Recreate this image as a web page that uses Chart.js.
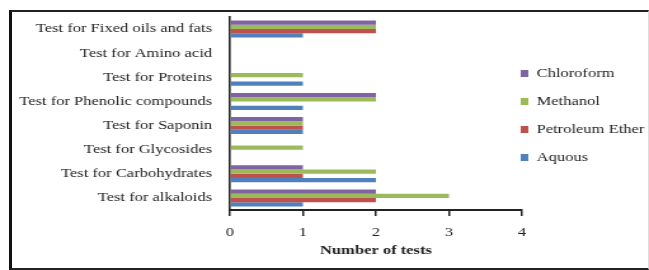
<!DOCTYPE html>
<html>
<head>
<meta charset="utf-8">
<script src="https://cdn.jsdelivr.net/npm/chart.js@4"></script>
<style>
    html, body { margin: 0; padding: 0; background: #fff; overflow: hidden; }
    #wrap { position: relative; width: 649px; height: 270px; }
    #frame { position: absolute; left: 9px; top: 10px; width: 636px; height: 256px;
        border-left: 3px solid #111; border-top: 2px solid #222; border-bottom: 2px solid #222; border-right: 1px solid #ddd; }
    /* the source picture is stretched sideways, so the chart is too */
    #stretch { position: absolute; left: 0; top: 0; width: 511px; height: 270px;
        transform: scaleX(1.27); transform-origin: 0 0; }
</style>
</head>
<body>
<div id="wrap">
    <div id="frame"></div>
    <div id="stretch"><canvas id="chart" width="511" height="270"></canvas></div>
</div>
<script>
const categories = ['Test for Fixed oils and fats', 'Test for Amino acid', 'Test for Proteins',
    'Test for Phenolic compounds', 'Test for Saponin', 'Test for Glycosides',
    'Test for Carbohydrates', 'Test for alkaloids'];
const chloroform = [2, 0, 0, 2, 1, 0, 1, 2];
const methanol = [2, 0, 1, 2, 1, 1, 2, 3];
const petroleumEther = [2, 0, 0, 0, 1, 0, 1, 2];
const aquous = [1, 0, 1, 1, 1, 0, 2, 1];
const xTicks = [0, 1, 2, 3, 4];

const serif = '"Liberation Serif", "Times New Roman", serif';

// legend sits tight to the plot and a bit above centre
const legendShift = {
    id: 'legendShift',
    afterLayout(chart) {
        const lg = chart.legend;
        if (!lg) return;
        lg.left -= 16;
        lg.width += 16;
        lg.top -= 22;
        lg.bottom -= 22;
    }
};

new Chart(document.getElementById('chart').getContext('2d'), {
    type: 'bar',
    data: {
        labels: categories,
        datasets: [
            { label: 'Chloroform', data: chloroform, backgroundColor: '#8064A2' },
            { label: 'Methanol', data: methanol, backgroundColor: '#9BBB59' },
            { label: 'Petroleum Ether', data: petroleumEther, backgroundColor: '#C0504D' },
            { label: 'Aquous', data: aquous, backgroundColor: '#4F81BD' }
        ]
    },
    plugins: [legendShift],
    options: {
        indexAxis: 'y',
        responsive: false,
        animation: false,
        categoryPercentage: 0.7,
        barPercentage: 1,
        layout: { padding: { left: 4, top: 17, right: 0, bottom: 12 } },
        plugins: {
            tooltip: { enabled: false },
            legend: {
                position: 'right',
                maxWidth: 100,
                labels: {
                    boxWidth: 6, boxHeight: 7, padding: 15,
                    color: '#222',
                    font: { family: serif, size: 13 }
                }
            }
        },
        scales: {
            x: {
                min: 0, max: 4,
                afterBuildTicks: s => { s.ticks = xTicks.map(v => ({ value: v })); },
                afterFit: s => { s.height = 48; },
                border: { color: '#222', width: 2 },
                grid: { drawOnChartArea: false, tickLength: 6, color: '#222', lineWidth: 1.5 },
                ticks: { color: '#222', padding: 9, font: { family: serif, size: 13 } },
                title: {
                    display: true, text: 'Number of tests', color: '#222', padding: 0,
                    font: { family: serif, size: 13, weight: 'bold' }
                }
            },
            y: {
                afterFit: s => { s.width = 177; },
                border: { color: '#222', width: 1.6 },
                grid: { display: false },
                ticks: { color: '#222', padding: 6, autoSkip: false, font: { family: serif, size: 13 } }
            }
        }
    }
});
</script>
</body>
</html>
